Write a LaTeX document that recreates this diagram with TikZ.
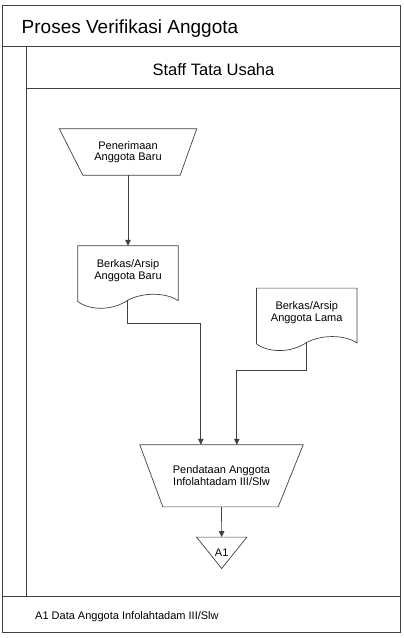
\documentclass[tikz,border=0pt]{standalone}
\usepackage{fontspec}
\setmainfont{Liberation Sans}
\usetikzlibrary{calc,arrows.meta}
\tikzset{
  outline/.style={draw=black!75, line width=0.7pt},
  flowline/.style={draw=black!75, line width=0.7pt, -{Triangle[length=6pt,width=5.5pt]}},
  shapetext/.style={inner sep=0pt, align=center, font=\fontsize{11}{11.5}\selectfont},
  docbox/.style={shapetext, minimum width=100pt, minimum height=49pt},
}
% document symbol with wavy bottom, drawn round a named node
\newcommand{\docoutline}[1]{%
  \draw [outline] ($(#1.south east)+(0,5.5)$) -- (#1.north east) -- (#1.north west) -- ($(#1.south west)+(0,6.3)$)
    .. controls ($(#1.south west)+(12,15.5)$) and ($(#1.south west)+(35,15.5)$) .. ($(#1.south west)+(50,5)$)
    .. controls ($(#1.south west)+(65,-3)$) and ($(#1.south west)+(88,-3)$) .. ($(#1.south east)+(0,5.5)$);}
\begin{document}
\begin{tikzpicture}[x=1pt,y=1pt,yscale=-1,xscale=1]
\useasboundingbox (0,0) rectangle (404,638);

%Frame and lane
\draw [outline] (2,5) rectangle (400,632);
\draw [outline] (2,46) -- (400,46);
\draw [outline] (26,46) -- (26,596);
\draw [outline] (26,88) -- (400,88);
\draw [outline] (2,596) -- (400,596);
\node [anchor=base west, inner sep=0pt, font=\fontsize{19}{19}\selectfont] (judul) at (21.5,33) {Proses Verifikasi Anggota};
\node [anchor=base, inner sep=0pt, font=\fontsize{16.5}{16.5}\selectfont] (lane) at (213.5,75) {Staff Tata Usaha};
\node [anchor=base west, shapetext] (ket) at (35,619.5) {A1 Data Anggota Infolahtadam III/Slw};

%Shape: Manual input
\node [shapetext, minimum width=137pt, minimum height=46pt] (terima) at (128,152) {Penerimaan\\Anggota Baru};
\draw [outline] (terima.north west) -- (terima.north east) -- ($(terima.south east)+(-16.5,0)$) -- ($(terima.south west)+(23.5,0)$) -- cycle;

%Shape: Documents
\node [docbox] (baru) at (128,270.5) {Berkas/Arsip\\Anggota Baru};
\docoutline{baru}
\node [docbox] (lama) at (306.7,312.8) {Berkas/Arsip\\Anggota Lama};
\docoutline{lama}

%Shape: Manual operation
\node [shapetext, minimum width=163pt, minimum height=61.7pt] (data) at (221.5,475.8) {Pendataan Anggota\\Infolahtadam III/Slw};
\draw [outline] (data.north west) -- (data.north east) -- ($(data.south east)+(-25,0)$) -- ($(data.south west)+(23,0)$) -- cycle;

%Shape: Off-page store
\node [shapetext, minimum width=50pt, minimum height=31pt] (arsip) at (221.7,552.8) {A1};
\draw [outline] (arsip.north west) -- (arsip.north east) -- (arsip.south) -- cycle;

%Connectors
\draw [flowline] (terima.south) -- (baru.north);
\draw [flowline] ($(baru.south west)+(50,5)$) -- ++(0,23) -| ($(data.north west)+(61,0)$);
\draw [flowline] ($(lama.south west)+(50,5)$) -- ++(0,28) -| ($(data.north west)+(97,0)$);
\draw [flowline] (data.south) -- (arsip.north);

\end{tikzpicture}
\end{document}
